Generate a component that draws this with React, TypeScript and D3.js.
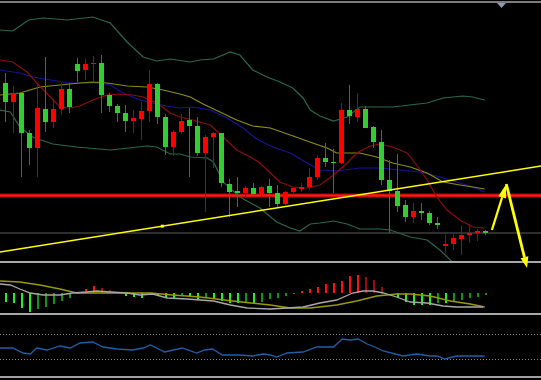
import React from "react";
import * as d3 from "d3";

const W = 541;
const H = 380;

// Prices are in pips above 1.0900. Each candle: [open, high, low, close]
const candles: [number, number, number, number][] = [
  [179, 189, 140, 160], [160, 176, 129, 169], [169, 170, 85, 129], [129, 132, 97, 114],
  [114, 177, 85, 154], [153, 205, 130, 140], [140, 163, 134, 153], [153, 179, 147, 173],
  [173, 179, 149, 155], [198, 204, 180, 191], [192, 203, 182, 198], [198, 206, 181, 199],
  [199, 207, 149, 167], [167, 169, 150, 156], [156, 158, 140, 149], [149, 157, 130, 141],
  [141, 152, 129, 144], [143, 160, 122, 151], [151, 192, 140, 178], [178, 179, 138, 145],
  [145, 148, 107, 115], [115, 132, 106, 130], [130, 148, 128, 141], [142, 154, 85, 136],
  [136, 145, 106, 109], [109, 127, 50, 125], [125, 130, 94, 129], [129, 129, 75, 79],
  [78, 83, 45, 70], [71, 85, 55, 69], [69, 76, 64, 74], [74, 79, 65, 68],
  [67, 76, 64, 75], [76, 83, 55, 69], [69, 77, 55, 58], [58, 71, 57, 70],
  [70, 75, 69, 74], [73, 79, 70, 75], [75, 94, 72, 85], [85, 107, 82, 104],
  [104, 119, 95, 100], [100, 113, 69, 99], [99, 159, 98, 152], [152, 177, 138, 146],
  [145, 169, 140, 153], [153, 156, 134, 134], [135, 136, 114, 120], [120, 132, 77, 82],
  [82, 102, 29, 71], [71, 108, 50, 56], [57, 62, 40, 45], [45, 59, 39, 51],
  [51, 59, 42, 49], [49, 51, 37, 39], [39, 45, 33, 37], [16, 27, 9, 18],
  [18, 28, 12, 24], [23, 36, 7, 27], [27, 38, 19, 29], [29, 33, 21, 31],
  [31, 32, 27, 29],
];

// indicator lines: [bar index, value]
const upperBand: [number, number][] = [
  [-0.7, 232], [0.9, 231], [2.9, 242], [4.7, 244], [7.7, 242], [10.9, 245], [13.1, 239],
  [15.2, 220], [17.2, 205], [18.9, 201], [20.6, 203], [23.1, 200], [24.3, 202], [26, 203],
  [28.1, 210], [29.3, 207], [30.9, 192], [32.7, 185], [34.3, 180], [35.9, 174], [37.2, 164],
  [38.1, 152], [39.3, 146], [41, 141], [42.7, 145], [44.3, 155], [45.6, 155], [48.4, 155],
  [52.7, 159], [54.7, 164], [57.2, 166], [58.4, 165], [59.9, 162],
];
const lowerBand: [number, number][] = [
  [-0.7, 152], [0.6, 150], [1.8, 135], [3.4, 125], [5.9, 118], [8.9, 115], [13.1, 112],
  [17.7, 116], [18.9, 115], [20.6, 108], [21.8, 108], [23.1, 105], [25.2, 104], [26, 100],
  [27.2, 80], [29.3, 65], [31.8, 54], [33.9, 40], [35.6, 34], [36.8, 31], [38.1, 38],
  [39.3, 39], [41, 41], [42.7, 38], [44.3, 33], [46.8, 33], [48.1, 32], [50.6, 25],
  [52.7, 22], [54.3, 12], [55.6, 2], [57.4, -10], [60, -18],
];
const fastMA: [number, number][] = [
  [-0.7, 202], [0.9, 200], [2.7, 190], [3.9, 179], [5.6, 165], [6.8, 155], [8.1, 154],
  [9.3, 156], [10.9, 162], [12.7, 167], [14.3, 168], [15.9, 167], [17.2, 165], [18.9, 159],
  [20.6, 149], [21.8, 145], [23.4, 142], [25.6, 137], [27.2, 125], [28.9, 112], [30.6, 105],
  [31.8, 99], [33.1, 89], [34.3, 80], [35.9, 75], [37.7, 74], [39.3, 77], [41, 87],
  [42.7, 99], [43.9, 109], [45.6, 116], [46.8, 118], [48.4, 115], [50.2, 109], [51.4, 97],
  [52.7, 82], [53.9, 65], [55.2, 52], [56.8, 42], [58.4, 35], [59.9, 34],
];
const slowMA: [number, number][] = [
  [-0.7, 167], [1.8, 169], [4.3, 175], [6.8, 177], [9.3, 179], [10.9, 180], [12.7, 179],
  [15.2, 176], [17.7, 175], [19.7, 172], [21.8, 168], [23.1, 165], [24.7, 158], [26.8, 150],
  [28.9, 142], [30.9, 136], [33.1, 134], [35.6, 127], [38.4, 119], [40.2, 114], [41.4, 109],
  [44.3, 109], [46.4, 105], [48.4, 99], [50.6, 95], [52.7, 89], [54.7, 80], [56.8, 77],
  [58.4, 75], [59.9, 73],
];
const midMA: [number, number][] = [
  [-0.7, 192], [1.8, 189], [3.4, 185], [5.6, 182], [7.7, 179], [10.2, 179], [11.4, 179],
  [13.1, 177], [14.7, 169], [16.8, 162], [18.4, 159], [20.2, 156], [21.8, 154], [23.4, 155],
  [25.6, 152], [27.7, 144], [29.7, 134], [31.4, 123], [33.4, 115], [35.6, 109], [37.7, 99],
  [39.3, 92], [41.4, 91], [44.3, 94], [46.8, 94], [49.3, 92], [51.8, 90], [54.3, 85],
  [56.8, 79], [58.4, 75], [59.9, 70],
];

const redLevel = 66.5;
const grayLevel = 29;
const trendAnchors: [number, number][] = [[0, 10.9], [60, 87.2]];
const trendDotIndex = 19.6;
const arrowPath: [number, number][] = [[60.8, 32], [62.6, 78], [65.2, -6]];

const macdHist: number[] = [
  -9, -10, -15, -19, -16, -14, -11, -8, -5, -1,
  4, 7, 5, 3, 0.5, -3, -4, -5, -2, -3,
  -5, -5, -3, -4, -6, -4, -5, -8, -10, -10,
  -9, -10, -9, -6, -5, -3, -1, 1.7, 4, 6,
  9, 10, 12.5, 17, 18, 16.5, 13, 6, 0, -5,
  -9, -12, -12, -12, -10, -10, -8, -7, -4.5, -3.5,
  -1.5,
];
const macdOlive: [number, number][] = [
  [-0.7, 12], [1.8, 11], [4.3, 8], [6.8, 4], [8.9, 0], [11.8, 0], [15.2, 0], [18.1, 0],
  [20.9, -2], [24.3, -4], [28.4, -8], [33.1, -12], [35.6, -15], [38.1, -15], [41.4, -12],
  [43.9, -8], [46.4, -3], [48.9, -1], [50.6, -1], [53.1, -3], [55.6, -8], [58.1, -11],
  [59.9, -14],
];
const macdGray: [number, number][] = [
  [-0.7, 9], [0.6, 8], [1.8, 4], [3.1, 0], [4.7, -2], [6.8, -2], [8.4, 0], [10.2, 1],
  [11.4, 2], [13.1, 1], [15.2, 0], [16.8, -2], [18.4, -1], [20.2, -5], [22.7, -6], [26, -8],
  [28.1, -12], [30.2, -15], [33.1, -16], [35.2, -15], [37.2, -14], [39.3, -10], [41.4, -7],
  [43.4, 0], [44.7, 2], [46, 2], [47.2, 0], [48.9, -4], [50.6, -9], [52.7, -10], [54.7, -13],
  [56.4, -14], [59.7, -14],
];
const rsiLine: [number, number][] = [
  [-0.7, 47.6], [0.9, 47.6], [2.2, 39.6], [3.1, 38], [3.9, 47.6], [5.2, 44.4], [6.8, 50.8],
  [8.1, 47.6], [9.3, 55.6], [10.9, 57.2], [12.2, 49.2], [13.9, 46], [15.9, 44.4], [17.2, 47.6],
  [18.1, 52.4], [19.9, 41.2], [22.1, 47.6], [23.9, 39.6], [24.9, 44.4], [25.9, 46], [27.1, 36.4],
  [29.3, 36.4], [30.9, 34.8], [32.2, 38], [33.1, 36.4], [33.9, 33.2], [35.2, 39.6], [37.2, 41.2],
  [38.9, 49.2], [41, 49.2], [42.1, 62], [43.1, 60.4], [44.1, 62], [45.2, 54], [45.9, 50.8],
  [47.2, 42.8], [49.7, 34.8], [51.4, 38], [53.1, 34.8], [54, 34.8], [54.9, 30], [56.4, 34.8],
  [58.1, 34.8], [59.9, 34.8],
];
const rsiLevels = [30, 70];

export default function App() {
  const x = d3.scaleLinear().domain([0, 60]).range([5.5, 485.5]);
  const y = d3.scaleLinear().domain([0, 260]).range([262, 2]);
  const ym = d3.scaleLinear().domain([-20, 30]).range([313, 263]);
  const yr = d3.scaleLinear().domain([0, 100]).range([377.75, 315.25]);

  const mainLine = d3.line<[number, number]>().x((d) => x(d[0])).y((d) => y(d[1]));
  const macdLine = d3.line<[number, number]>().x((d) => x(d[0])).y((d) => ym(d[1]));
  const rsiPath = d3.line<[number, number]>().x((d) => x(d[0])).y((d) => yr(d[1]));

  const trend = d3.scaleLinear().domain([trendAnchors[0][0], trendAnchors[1][0]]).range([trendAnchors[0][1], trendAnchors[1][1]]);
  const tx0 = x.invert(0);
  const tx1 = x.invert(W);

  const ap = arrowPath.map((d) => [x(d[0]), y(d[1])] as [number, number]);
  const head = (from: [number, number], tip: [number, number], len: number, hw: number) => {
    const dx = tip[0] - from[0];
    const dy = tip[1] - from[1];
    const L = Math.hypot(dx, dy);
    const ux = dx / L, uy = dy / L;
    const bx = tip[0] - ux * len, by = tip[1] - uy * len;
    const nx = -uy, ny = ux;
    return {
      base: [bx, by] as [number, number],
      pts: `${tip[0]},${tip[1]} ${bx + nx * hw},${by + ny * hw} ${bx - nx * hw},${by - ny * hw}`,
    };
  };
  const upHead = head(ap[0], ap[1], 14, 4);
  const downHead = head(ap[1], ap[2], 11, 4);

  const histColor = (i: number) => {
    const v = macdHist[i];
    const p = i > 0 ? macdHist[i - 1] : 0;
    if (v >= 0) return p <= 0 || v >= p ? "#ff1010" : "#9a0e0e";
    return p >= 0 || v <= p ? "#22f022" : "#119411";
  };

  return (
    <svg
      width={W}
      height={H}
      style={{ position: "absolute", left: 0, top: 0, background: "#000" }}
    >
      <rect x={0} y={0} width={W} height={H} fill="#000" />
      <defs>
        <clipPath id="mainClip">
          <rect x={0} y={3} width={W} height={258} />
        </clipPath>
      </defs>

      {/* separators */}
      <rect x={0} y={1} width={W} height={2} fill="#7c7c7c" />
      <rect x={0} y={261} width={W} height={2} fill="#a8a8a8" />
      <rect x={0} y={313} width={W} height={2} fill="#a8a8a8" />
      <rect x={0} y={376} width={W} height={2} fill="#a0a0a0" />

      <g clipPath="url(#mainClip)">
        {/* gray level */}
        <line x1={0} x2={W} y1={y(grayLevel)} y2={y(grayLevel)} stroke="#5c5c5c" strokeWidth={1} />
        {/* red level */}
        <line x1={0} x2={W} y1={y(redLevel)} y2={y(redLevel)} stroke="#b00000" strokeWidth={4} />
        <line x1={0} x2={W} y1={y(redLevel)} y2={y(redLevel)} stroke="#ff1a1a" strokeWidth={2} />

        {/* bands and MAs */}
        <path d={mainLine(upperBand) || ""} fill="none" stroke="#2a6848" strokeWidth={1.2} />
        <path d={mainLine(lowerBand) || ""} fill="none" stroke="#2a6848" strokeWidth={1.2} />
        <path d={mainLine(midMA) || ""} fill="none" stroke="#14149a" strokeWidth={1.2} />
        <path d={mainLine(slowMA) || ""} fill="none" stroke="#8e8e0a" strokeWidth={1.2} />
        <path d={mainLine(fastMA) || ""} fill="none" stroke="#8e0c0c" strokeWidth={1.2} />

        {/* candles */}
        {candles.map(([o, h, l, c], i) => {
          const up = c > o;
          const cx = x(i);
          const top = y(Math.max(o, c));
          const bot = y(Math.min(o, c));
          return (
            <g key={i} shapeRendering="crispEdges">
              <line
                x1={cx}
                x2={cx}
                y1={y(h)}
                y2={y(l)}
                stroke={up ? "#9a0c0c" : "#178a17"}
                strokeWidth={1}
              />
              <rect
                x={cx - 2.5}
                y={top}
                width={5}
                height={Math.max(1, bot - top)}
                fill={up ? "#ff0000" : "#33cc33"}
              />
            </g>
          );
        })}

        {/* trend line */}
        <line
          x1={x(tx0)}
          x2={x(tx1)}
          y1={y(trend(tx0))}
          y2={y(trend(tx1))}
          stroke="#ffff00"
          strokeWidth={1.5}
        />
        <rect
          x={x(trendDotIndex) - 1.5}
          y={y(trend(trendDotIndex)) - 1.5}
          width={3}
          height={3}
          fill="#ffff00"
        />
      </g>

      {/* shift marker */}
      <polygon points="497,3 506,3 501.5,8" fill="#8a9ab0" />

      {/* arrows */}
      <line x1={ap[0][0]} y1={ap[0][1]} x2={upHead.base[0]} y2={upHead.base[1]} stroke="#ffff00" strokeWidth={2.2} />
      <polygon points={upHead.pts} fill="#ffff00" />
      <line x1={ap[1][0]} y1={ap[1][1]} x2={downHead.base[0]} y2={downHead.base[1]} stroke="#ffff00" strokeWidth={2.8} />
      <polygon points={downHead.pts} fill="#ffff00" />

      {/* MACD panel */}
      {macdHist.map((v, i) => (
        <rect
          key={i}
          x={x(i) - 0.5}
          y={Math.min(ym(0), ym(v))}
          width={2}
          height={Math.abs(ym(v) - ym(0))}
          fill={histColor(i)}
          shapeRendering="crispEdges"
        />
      ))}
      <path d={macdLine(macdOlive) || ""} fill="none" stroke="#9a9a00" strokeWidth={1.3} />
      <path d={macdLine(macdGray) || ""} fill="none" stroke="#a8a8a8" strokeWidth={1.3} />

      {/* RSI panel */}
      {rsiLevels.map((lv) => (
        <line
          key={lv}
          x1={0}
          x2={W}
          y1={Math.round(yr(lv)) + 0.5}
          y2={Math.round(yr(lv)) + 0.5}
          stroke="#8a8a8a"
          strokeWidth={1}
          strokeDasharray="1,2"
        />
      ))}
      <path d={rsiPath(rsiLine) || ""} fill="none" stroke="#1f5fa8" strokeWidth={1.3} />
    </svg>
  );
}
